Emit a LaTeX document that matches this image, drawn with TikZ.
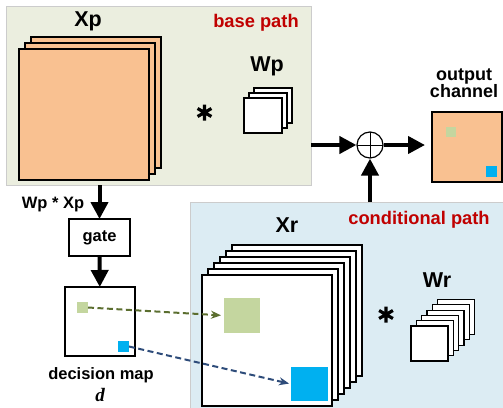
\documentclass[tikz,border=0pt]{standalone}
\usepackage{fontspec}
\setmainfont{Liberation Sans}
\newfontfamily\mathlike{Liberation Serif}
\usetikzlibrary{arrows.meta,positioning}
\definecolor{basebg}{HTML}{EBEEDF}
\definecolor{condbg}{HTML}{DCECF3}
\definecolor{featorange}{HTML}{F9C191}
\definecolor{pickgreen}{HTML}{C4D69F}
\definecolor{pickblue}{HTML}{00B0F0}
\definecolor{pathred}{HTML}{C00000}
\definecolor{dashgreen}{HTML}{5B6E2F}
\definecolor{dashblue}{HTML}{2E4C7A}

\begin{document}
\begin{tikzpicture}[x=1pt,y=-1pt]
    \tikzset{panel/.style = {draw=black!20, line width=0.8pt, outer sep=0pt},
             sheet/.style = {draw, line width=1.2pt, fill=white, outer sep=0pt},
             fmap/.style = {sheet, fill=featorange},
             bigname/.style = {font=\fontsize{21.5}{24}\selectfont\bfseries},
             lbltext/.style = {font=\fontsize{16.5}{17}\selectfont\bfseries, align=center},
             pathname/.style = {font=\fontsize{18.3}{20}\selectfont\bfseries, text=pathred},
             conv/.style = {line width=3.2pt},
             flow/.style = {line width=4pt, -{Triangle[length=17pt,width=17pt]}},
             pick/.style = {line width=2pt, dash pattern=on 6pt off 3.5pt, -{Stealth[length=10pt,width=8pt]}},
             dot/.style = {inner sep=0pt, outer sep=0pt}}
    \useasboundingbox (0,0) rectangle (503,407);
    \node[panel, fill=basebg, minimum width=305, minimum height=179, anchor=north west] (base) at (6,6) {};
    \node[panel, fill=condbg, minimum width=320, minimum height=210, anchor=north west] (cond) at (190,202) {};
    % base path
    \foreach \i in {2,1}
        \draw[fmap] (19+6*\i,49-6*\i) rectangle ++(130,131);
    \node[fmap, minimum width=130, minimum height=131, anchor=north west] (xp) at (19,49) {};
    \node[bigname] (xpname) at (88,21) {Xp};
    \node[pathname] at (256,23) {base path};
    \draw[conv] (204.5,112.5) +(90:8) -- +(270:8) +(30:8) -- +(210:8) +(150:8) -- +(330:8);
    \foreach \i in {2,1}
        \draw[sheet] (244+5*\i,98-5*\i) rectangle ++(38,35);
    \node[sheet, minimum width=38, minimum height=35, anchor=north west] (wp) at (244,98) {};
    \node[bigname] at (267,66) {Wp};
    % sum and output
    \node[circle, draw, line width=1.2pt, fill=white, minimum size=26, inner sep=0pt,
          path picture={\draw[line width=1pt] (path picture bounding box.north) -- (path picture bounding box.south)
                        (path picture bounding box.west) -- (path picture bounding box.east);}] (sum) at (370,145) {};
    \node[fmap, minimum width=70, minimum height=70, anchor=north west] (outp) at (432,112) {};
    \node[dot, fill=pickgreen, minimum size=10, anchor=north west] at (446,127) {};
    \node[dot, fill=pickblue, minimum size=11, anchor=north west] at (486,166) {};
    \node[lbltext, font=\fontsize{18}{17.5}\selectfont\bfseries] at (464,83) {output\\channel};
    % conditional path
    \node[pathname] at (419,220) {conditional path};
    \foreach \i in {5,4,...,1}
        \draw[sheet] (202+6*\i,275-6*\i) rectangle ++(130,131);
    \node[sheet, minimum width=130, minimum height=131, anchor=north west] (xr) at (202,275) {};
    \node[dot, fill=pickgreen, minimum width=36, minimum height=35, anchor=north west] (gbig) at (224,298) {};
    \node[dot, fill=pickblue, minimum width=37, minimum height=34, anchor=north west] (bbig) at (291,367) {};
    \node[bigname] at (287,225) {Xr};
    \draw[conv] (386,314.5) +(90:8) -- +(270:8) +(30:8) -- +(210:8) +(150:8) -- +(330:8);
    \foreach \i in {5,4,...,1}
        \draw[sheet] (411+5.3*\i,326-5.3*\i) rectangle ++(37,35);
    \node[sheet, minimum width=37, minimum height=35, anchor=north west] (wr) at (411,326) {};
    \node[bigname] at (437,280) {Wr};
    % gate and decision map
    \node[lbltext] at (53,205) {Wp * Xp};
    \node[sheet, lbltext, minimum width=61, minimum height=37] (gate) at (99.5,237.5) {gate};
    \node[sheet, minimum width=70, minimum height=69] (dmap) at (100,321.5) {};
    \node[dot, fill=pickgreen, minimum size=11, anchor=north west] (gsmall) at (77,302) {};
    \node[dot, fill=pickblue, minimum size=11, anchor=north west] (bsmall) at (118,341) {};
    \node[lbltext] (dname) at (101,375.5) {decision map};
    \node[font=\fontsize{19}{19}\mathlike\bfseries\itshape] at (100,395) {d};
    % connectors
    \draw[flow] (base.east |- sum) -- (sum);
    \draw[flow] (sum) -- ([xshift=-7pt]sum -| outp.west);
    \draw[flow] (cond.north -| sum) -- (sum);
    \draw[flow] (base.south -| gate) -- (gate);
    \draw[flow] (gate) -- (dmap);
    \draw[pick, dashgreen, shorten >=3pt] (gsmall.east) -- (gbig.west);
    \draw[pick, dashblue, shorten >=2pt] (bsmall.east) -- (bbig.west);
\end{tikzpicture}
\end{document}
